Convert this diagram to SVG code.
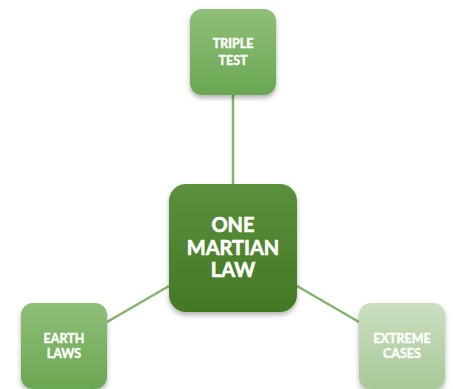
<svg xmlns="http://www.w3.org/2000/svg" width="453" height="389" viewBox="0 0 453 389">
<defs>
<linearGradient id="gMid" x1="0" y1="0" x2="0" y2="1"><stop offset="0" stop-color="#8fbf78"/><stop offset="1" stop-color="#6aa752"/></linearGradient>
<linearGradient id="gDark" x1="0" y1="0" x2="0" y2="1"><stop offset="0" stop-color="#5b903c"/><stop offset="1" stop-color="#437823"/></linearGradient>
<linearGradient id="gLight" x1="0" y1="0" x2="0" y2="1"><stop offset="0" stop-color="#cadfc0"/><stop offset="1" stop-color="#a8c898"/></linearGradient>
<filter id="sh" x="-20%" y="-20%" width="140%" height="150%"><feDropShadow dx="0" dy="3" stdDeviation="2.5" flood-color="#000" flood-opacity="0.3"/></filter>
</defs>
<style>
.t{font-family:Lato,"Open Sans",sans-serif;font-weight:bold;fill:#fff;stroke:#fff;stroke-width:0.4;text-anchor:middle}
.s{font-size:12.5px}
.b{font-size:20px;stroke-width:0.6}
.c{stroke:#82b46d;stroke-width:2.5;fill:none}
</style>
<g id="connectors">
<line class="c" x1="233" y1="95" x2="233" y2="184"/>
<line class="c" x1="107" y1="322" x2="169" y2="286"/>
<line class="c" x1="297" y1="286" x2="359" y2="322"/>
</g>
<g id="triple-test">
<rect x="190" y="9" width="86" height="86" rx="12" fill="url(#gMid)" filter="url(#sh)"/>
<text class="t s" x="233" y="48">TRIPLE</text>
<text class="t s" x="233" y="65">TEST</text>
</g>
<g id="one-martian-law">
<rect x="169" y="184" width="128" height="128" rx="17" fill="url(#gDark)" filter="url(#sh)"/>
<text class="t b" x="233" y="232">ONE</text>
<text class="t b" x="233" y="255">MARTIAN</text>
<text class="t b" x="233" y="277">LAW</text>
</g>
<g id="earth-laws">
<rect x="21" y="303" width="86" height="86" rx="12" fill="url(#gMid)" filter="url(#sh)"/>
<text class="t s" x="64" y="343">EARTH</text>
<text class="t s" x="64" y="358">LAWS</text>
</g>
<g id="extreme-cases">
<rect x="359" y="303" width="86" height="86" rx="12" fill="url(#gLight)" filter="url(#sh)"/>
<text class="t s" x="402" y="343">EXTREME</text>
<text class="t s" x="402" y="358">CASES</text>
</g>
</svg>
